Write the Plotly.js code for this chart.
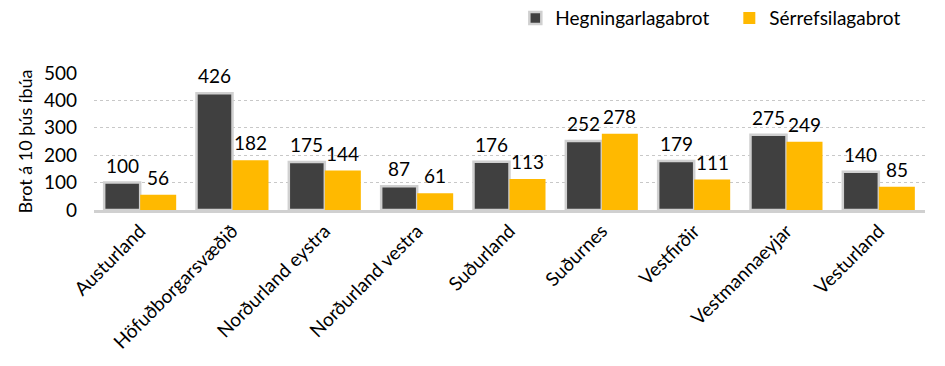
<!DOCTYPE html>
<html><head><meta charset="utf-8">
<script src="https://cdn.plot.ly/plotly-3.0.1.min.js"></script>
<style>html,body{margin:0;padding:0;background:#fff;}</style>
</head><body>
<div id="chart" style="width:945px;height:366px;"></div>
<script>
const categories = ["Austurland","Höfuðborgarsvæðið","Norðurland eystra","Norðurland vestra","Suðurland","Suðurnes","Vestfirðir","Vestmannaeyjar","Vesturland"];
const hegningarlagabrot = [100,426,175,87,176,252,179,275,140];
const serrefsilagabrot = [56,182,144,61,113,278,111,249,85];
const yTicks = [0,100,200,300,400,500];

const font = "Lato, Open Sans, sans-serif";
const traces = [
  {type:"bar", name:"Hegningarlagabrot", x:categories, y:hegningarlagabrot,
   marker:{color:"#404040", line:{color:"#d0d0d0", width:2.5}}},
  {type:"bar", name:"Sérrefsilagabrot", x:categories, y:serrefsilagabrot,
   marker:{color:"#FFB900"}}
];
const annotations = [];
categories.forEach((c,i)=>{
  annotations.push({x:c, y:hegningarlagabrot[i], text:String(hegningarlagabrot[i]), showarrow:false,
    xref:"x", yref:"y", yanchor:"bottom", xshift:-18, yshift:4, font:{size:19, family:font, color:"#000"}});
  annotations.push({x:c, y:serrefsilagabrot[i], text:String(serrefsilagabrot[i]), showarrow:false,
    xref:"x", yref:"y", yanchor:"bottom", xshift:18, yshift:4, font:{size:19, family:font, color:"#000"}});
});
const layout = {
  width:945, height:366,
  margin:{l:94, r:20, t:73, b:156, autoexpand:false},
  paper_bgcolor:"#fff", plot_bgcolor:"#fff",
  font:{family:font, color:"#000", size:18},
  barmode:"group", bargap:0.22, bargroupgap:0,
  showlegend:true,
  annotations:annotations,
  legend:{orientation:"h", x:0.507, y:1.40, xanchor:"left", yanchor:"middle",
          entrywidth:169, entrywidthmode:"pixels",
          font:{size:19, family:font}, traceorder:"normal"},
  xaxis:{tickangle:-45, tickfont:{size:19, family:font}, showline:true, linecolor:"#d0d0d0", linewidth:2.5,
         ticks:"", showgrid:false, automargin:false},
  yaxis:{range:[0,500], tickvals:yTicks, ticktext:yTicks.map(String), tickfont:{size:19, family:font},
         ticklabelstandoff:16, automargin:false,
         showgrid:true, gridcolor:"#c8c8c8", griddash:"dot", gridwidth:1, zeroline:false,
         title:{text:"Brot á 10 þús íbúa", font:{size:18, family:font}, standoff:6}, ticks:"", ticklen:0}
};
Plotly.newPlot("chart", traces, layout, {displayModeBar:false, staticPlot:true});
</script>
</body></html>
